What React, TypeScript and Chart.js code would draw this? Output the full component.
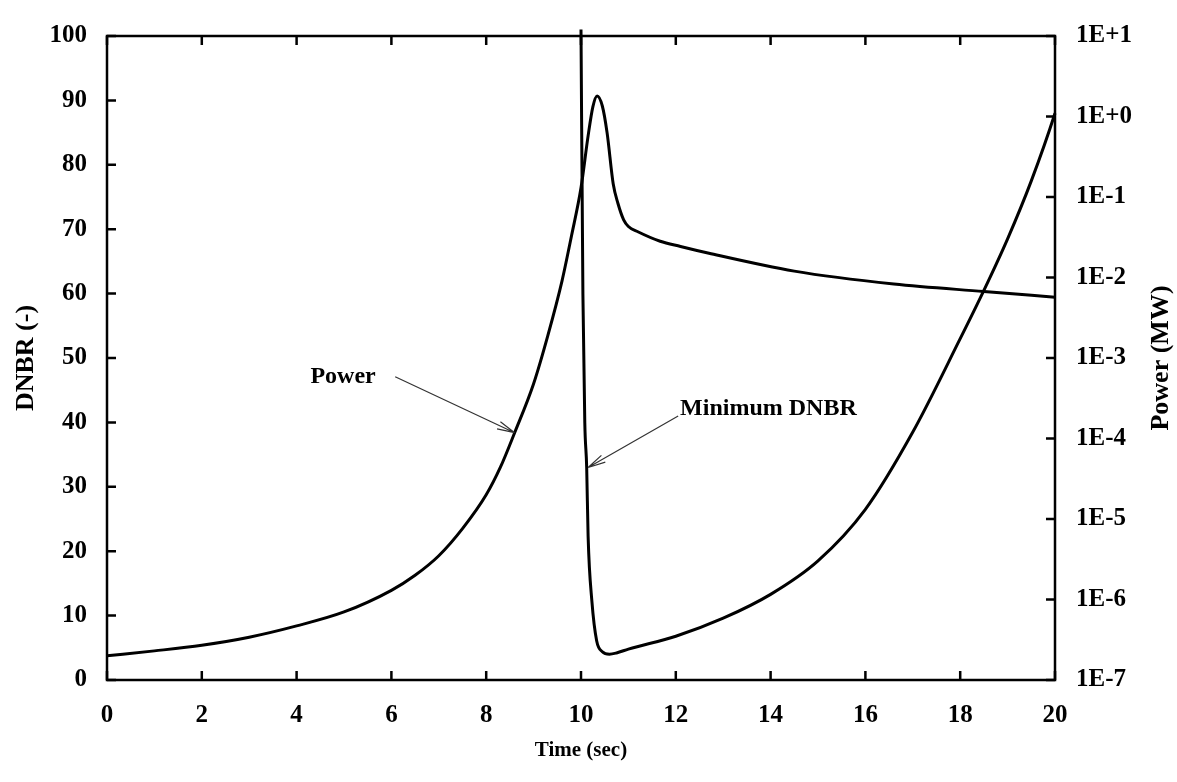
import React, { useEffect, useRef } from 'react';
import { Chart, registerables } from 'chart.js';

Chart.register(...registerables);

// ---- data ----
const timeTicks = [0, 2, 4, 6, 8, 10, 12, 14, 16, 18, 20];
const dnbrTicks = [0, 10, 20, 30, 40, 50, 60, 70, 80, 90, 100];
const powerTicks = [1e-7, 1e-6, 1e-5, 1e-4, 1e-3, 1e-2, 1e-1, 1e0, 1e1];
const powerTickLabels = ['1E-7', '1E-6', '1E-5', '1E-4', '1E-3', '1E-2', '1E-1', '1E+0', '1E+1'];

// Power (MW), right logarithmic axis
const powerTime = [0, 1, 2, 3, 4, 5, 6, 6.5, 7, 7.5, 8, 8.3, 8.6, 9.0, 9.3, 9.6, 9.8, 10.0, 10.15, 10.25, 10.34, 10.45, 10.55, 10.68, 10.78, 10.9, 11.0, 11.2, 11.67, 12.1, 12.7, 14.5, 16.6, 18.5, 20];
const powerMW = [2.0e-7, 2.3e-7, 2.7e-7, 3.4e-7, 4.7e-7, 7.0e-7, 1.3e-6, 2.0e-6, 3.5e-6, 7.6e-6, 2.0e-5, 4.4e-5, 1.18e-4, 4.8e-4, 1.9e-3, 9.1e-3, 3.3e-2, 0.13, 0.575, 1.32, 1.8, 1.35, 0.63, 0.145, 0.083, 0.052, 0.043, 0.037, 0.0282, 0.0243, 0.0200, 0.012, 0.0083, 0.0067, 0.0057];

// Minimum DNBR (-), left axis
const dnbrTime = [10.0, 10.04, 10.08, 10.12, 10.15, 10.23, 10.33, 10.45, 10.6, 10.75, 11.0, 12.0, 13.0, 14.0, 15.0, 16.0, 17.0, 18.0, 18.5, 19.0, 19.5, 20.0, 20.12];
const dnbrValue = [101, 60, 40, 33, 22.3, 12.2, 6.1, 4.4, 4.0, 4.2, 4.8, 6.8, 9.6, 13.3, 18.5, 26.5, 38.5, 53, 60.5, 68.5, 77.5, 88, 91];

// annotation texts and anchors (data units of time / left axis)
const annotationTexts = ['Power', 'Minimum DNBR'];
const annotationLayout = [
  { tx: 4.98, ty: 47.1, align: 'center', fx: 6.08, fy: 47.1, ax: 8.6, ay: 38.4 },
  { tx: 12.09, ty: 42.1, align: 'left', fx: 12.05, fy: 41.0, ax: 10.15, ay: 33.0 },
];

const FONT = "'Liberation Serif', 'Times New Roman', serif";
const TICK_FONT = { family: FONT, size: 25, weight: 'bold' as const };
const XTITLE_FONT = { family: FONT, size: 21, weight: 'bold' as const };
const YTITLE_FONT = { family: FONT, size: 26, weight: 'bold' as const };
const NOTE_SIZE = 24;

const framePlugin = {
  id: 'frame',
  afterDraw(chart: any) {
    const { ctx, chartArea: a, scales } = chart;
    const xs = scales.x, yl = scales.y, yr = scales.y1;
    ctx.save();
    ctx.strokeStyle = '#000';
    ctx.lineWidth = 2.5;
    ctx.strokeRect(a.left, a.top, a.right - a.left, a.bottom - a.top);
    const TL = 9;
    ctx.beginPath();
    timeTicks.forEach((v) => {
      const px = xs.getPixelForValue(v);
      ctx.moveTo(px, a.bottom); ctx.lineTo(px, a.bottom - TL);
      ctx.moveTo(px, a.top); ctx.lineTo(px, a.top + TL);
    });
    dnbrTicks.forEach((v) => {
      const py = yl.getPixelForValue(v);
      ctx.moveTo(a.left, py); ctx.lineTo(a.left + TL, py);
    });
    powerTicks.forEach((v) => {
      const py = yr.getPixelForValue(v);
      ctx.moveTo(a.right, py); ctx.lineTo(a.right - TL, py);
    });
    ctx.stroke();

    // right axis title
    ctx.fillStyle = '#000';
    ctx.font = `bold ${YTITLE_FONT.size}px ${FONT}`;
    ctx.textAlign = 'center';
    ctx.textBaseline = 'middle';
    ctx.translate(1161, (a.top + a.bottom) / 2);
    ctx.rotate(-Math.PI / 2);
    ctx.fillText('Power (MW)', 0, 0);
    ctx.setTransform(1, 0, 0, 1, 0, 0);

    // annotations
    annotationLayout.forEach((an, i) => {
      ctx.font = `bold ${NOTE_SIZE}px ${FONT}`;
      ctx.textAlign = an.align as CanvasTextAlign;
      ctx.textBaseline = 'middle';
      ctx.fillStyle = '#000';
      ctx.fillText(annotationTexts[i], xs.getPixelForValue(an.tx), yl.getPixelForValue(an.ty));
      const fx = xs.getPixelForValue(an.fx), fy = yl.getPixelForValue(an.fy);
      const tx = xs.getPixelForValue(an.ax), ty = yl.getPixelForValue(an.ay);
      ctx.strokeStyle = '#333';
      ctx.lineWidth = 1.2;
      ctx.beginPath();
      ctx.moveTo(fx, fy); ctx.lineTo(tx, ty);
      const ang = Math.atan2(ty - fy, tx - fx);
      const hl = 18, ha = 0.22;
      ctx.moveTo(tx, ty); ctx.lineTo(tx - hl * Math.cos(ang - ha), ty - hl * Math.sin(ang - ha));
      ctx.moveTo(tx, ty); ctx.lineTo(tx - hl * Math.cos(ang + ha), ty - hl * Math.sin(ang + ha));
      ctx.stroke();
    });
    ctx.restore();
  },
};

export default function App() {
  const ref = useRef<HTMLCanvasElement>(null);
  useEffect(() => {
    if (!ref.current) return;
    const chart = new Chart(ref.current, {
      type: 'line',
      data: {
        datasets: [
          {
            label: 'Power',
            data: powerTime.map((t, i) => ({ x: t, y: powerMW[i] })),
            yAxisID: 'y1',
            borderColor: '#000',
            borderWidth: 3,
            pointRadius: 0,
            cubicInterpolationMode: 'monotone',
            fill: false,
          },
          {
            label: 'Minimum DNBR',
            data: dnbrTime.map((t, i) => ({ x: t, y: dnbrValue[i] })),
            yAxisID: 'y',
            borderColor: '#000',
            borderWidth: 3,
            pointRadius: 0,
            cubicInterpolationMode: 'monotone',
            fill: false,
            clip: false as any,
          },
        ],
      },
      options: {
        responsive: false,
        animation: false,
        layout: { padding: { top: 22, left: 0, right: 0, bottom: 0 } },
        plugins: { legend: { display: false }, tooltip: { enabled: false } },
        scales: {
          x: {
            type: 'linear',
            position: 'bottom',
            min: 0,
            max: 20,
            afterBuildTicks: (s: any) => { s.ticks = timeTicks.map((v) => ({ value: v })); },
            afterFit: (s: any) => { s.height = 102; },
            ticks: { font: TICK_FONT, color: '#000', padding: 21, maxRotation: 0, autoSkip: false },
            grid: { display: false, drawTicks: false },
            border: { display: false },
            title: { display: true, text: 'Time (sec)', font: XTITLE_FONT, color: '#000', padding: { top: 0, bottom: 19 } },
          },
          y: {
            type: 'linear',
            position: 'left',
            min: 0,
            max: 100,
            afterBuildTicks: (s: any) => { s.ticks = dnbrTicks.map((v) => ({ value: v })); },
            afterFit: (s: any) => { s.width = 107; },
            ticks: { font: TICK_FONT, color: '#000', padding: 20, autoSkip: false },
            grid: { display: false, drawTicks: false },
            border: { display: false },
            title: { display: true, text: 'DNBR (-)', font: YTITLE_FONT, color: '#000', padding: { top: 11, bottom: 0 } },
          },
          y1: {
            type: 'logarithmic',
            position: 'right',
            min: 1e-7,
            max: 1e1,
            afterBuildTicks: (s: any) => { s.ticks = powerTicks.map((v) => ({ value: v })); },
            afterFit: (s: any) => { s.width = 122; },
            ticks: {
              font: TICK_FONT,
              color: '#000',
              padding: 21,
              autoSkip: false,
              callback: (_v: any, i: number) => powerTickLabels[i],
            },
            grid: { display: false, drawTicks: false },
            border: { display: false },
          },
        },
      },
      plugins: [framePlugin],
    });
    return () => chart.destroy();
  }, []);
  return (
    <div style={{ position: 'fixed', left: 0, top: 0, width: 1177, height: 782, background: '#fff' }}>
      <canvas ref={ref} width={1177} height={782} style={{ display: 'block' }} />
    </div>
  );
}
